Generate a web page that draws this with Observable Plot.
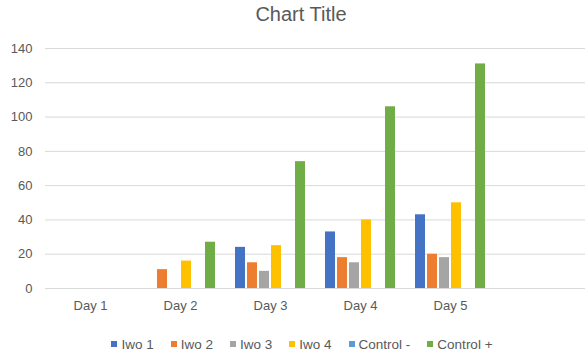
<!DOCTYPE html>
<html>
<head>
<meta charset="utf-8">
<script src="https://cdn.jsdelivr.net/npm/d3@7"></script>
<script src="https://cdn.jsdelivr.net/npm/@observablehq/plot@0.6"></script>
<style>
  html, body { margin: 0; padding: 0; background: #fff; }
  body { width: 588px; height: 355px; overflow: hidden; font-family: "Liberation Sans", Arial, sans-serif; color: #595959; }
  #title { height: 28px; line-height: 28px; font-size: 20px; text-align: center; padding-left: 14px; }
  #legend { display: flex; justify-content: center; align-items: center; padding-left: 16px; margin-top: 14px; font-size: 13.5px; height: 16px; }
  .item { display: inline-flex; align-items: center; margin: 0 8.5px; }
  .sw { width: 6px; height: 6px; margin-right: 4px; display: inline-block; }
</style>
</head>
<body>
<div id="title">Chart Title</div>
<div id="chart"></div>
<div id="legend"></div>
<script>
const days = ["Day 1", "Day 2", "Day 3", "Day 4", "Day 5"];
const series = ["Iwo 1", "Iwo 2", "Iwo 3", "Iwo 4", "Control -", "Control +"];
const colors = ["#4472C4", "#ED7D31", "#A5A5A5", "#FFC000", "#5B9BD5", "#70AD47"];
const iwo1 = [0, 0, 24, 33, 43];
const iwo2 = [0, 11, 15, 18, 20];
const iwo3 = [0, 0, 10, 15, 18];
const iwo4 = [0, 16, 25, 40, 50];
const controlMinus = [0, 0, 0, 0, 0];
const controlPlus = [0, 27, 74, 106, 131];
const yTicks = [0, 20, 40, 60, 80, 100, 120, 140];
const emptyCategory = " ";

const categories = [...days, emptyCategory];
const valuesBySeries = [iwo1, iwo2, iwo3, iwo4, controlMinus, controlPlus];
const data = [];
days.forEach((d, i) => {
  series.forEach((s, j) => {
    data.push({ day: d, series: s, value: valuesBySeries[j][i] });
  });
});
const grid = [];
categories.forEach((d) => yTicks.forEach((v) => grid.push({ day: d, v })));

const chart = Plot.plot({
  width: 588,
  height: 294,
  marginLeft: 43,
  marginRight: 1,
  marginTop: 20,
  marginBottom: 34,
  style: { color: "#595959", fontSize: "13px", fontFamily: "Liberation Sans, Arial, sans-serif", background: "#fff" },
  fx: { domain: categories, padding: 0, label: null, axis: null },
  x: { domain: series, axis: null, paddingInner: 0.2, paddingOuter: 0.85 },
  y: { domain: [0, 140], axis: null },
  color: { domain: series, range: colors },
  marks: [
    Plot.ruleY(grid, { fx: "day", y: "v", stroke: "#d9d9d9", strokeWidth: 1 }),
    Plot.barY(data, { fx: "day", x: "series", y: "value", fill: "series" }),
    Plot.axisY({ ticks: yTicks, tickSize: 0, tickPadding: 13, label: null }),
    Plot.axisFx({ anchor: "bottom", tickSize: 0, tickPadding: 12, label: null })
  ]
});
document.getElementById("chart").appendChild(chart);

const legend = d3.select("#legend");
series.forEach((s, i) => {
  const it = legend.append("span").attr("class", "item");
  it.append("span").attr("class", "sw").style("background", colors[i]);
  it.append("span").text(s);
});
</script>
</body>
</html>
